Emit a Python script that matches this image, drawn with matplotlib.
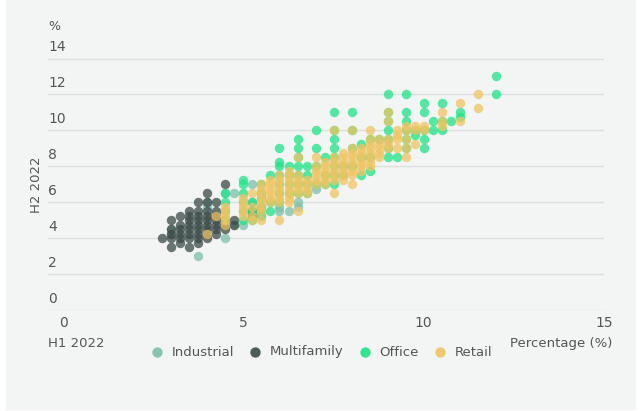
import matplotlib
matplotlib.use("Agg")
import matplotlib.pyplot as plt
from matplotlib.patches import Rectangle

# H1 2022 value -> list of H2 2022 values, per property type
INDUSTRIAL = {
    3.0: [4.5, 4.25], 3.75: [3.0], 4.0: [6.0, 5.75], 4.5: [4.0, 6.5],
    4.75: [4.75, 6.5], 5.0: [4.75], 5.25: [7.0, 6.0], 5.5: [5.75, 5.5],
    6.0: [5.5, 5.75], 6.25: [5.5], 6.5: [6.0, 5.75], 7.0: [6.75],
}
MULTIFAMILY = {
    2.75: [4.0], 3.0: [3.5, 4.0, 4.25, 4.5, 5.0],
    3.25: [3.75, 4.0, 4.25, 4.5, 4.75, 5.25],
    3.5: [3.5, 4.0, 4.25, 4.5, 4.75, 5.0, 5.25, 5.5],
    3.75: [3.75, 4.0, 4.25, 4.5, 4.75, 5.0, 5.25, 5.5, 6.0],
    4.0: [4.0, 4.25, 4.5, 4.75, 5.0, 5.25, 5.5, 6.0, 6.5],
    4.25: [4.25, 4.5, 4.75, 5.0, 5.25, 5.5, 6.0],
    4.5: [4.5, 4.75, 5.0, 7.0], 4.75: [4.75, 5.0], 5.25: [5.25, 5.5],
}
OFFICE = {
    4.5: [5.0, 5.5, 6.0, 6.5], 5.0: [5.0, 5.5, 6.0, 6.5, 7.0, 7.25],
    5.25: [5.0, 5.5, 6.0], 5.5: [5.25, 5.75, 6.25, 6.5, 7.0],
    5.75: [5.5, 6.0, 7.5], 6.0: [6.0, 6.5, 7.0, 7.5, 8.0, 8.25, 9.0],
    6.25: [6.5, 7.0, 7.5, 8.0], 6.5: [6.5, 7.0, 7.5, 8.0, 8.5, 9.0, 9.5],
    6.75: [6.5, 7.0, 7.5, 8.0], 7.0: [7.0, 8.0, 9.0, 10.0],
    7.25: [7.0, 7.5, 8.5], 7.5: [7.0, 7.5, 8.0, 8.5, 9.0, 9.5, 10.0, 11.0],
    7.75: [7.5, 8.0], 8.0: [8.0, 9.0, 10.0, 11.0], 8.25: [7.5, 8.5, 9.25],
    8.5: [7.75, 8.5, 9.5], 8.75: [9.5],
    9.0: [8.5, 9.0, 9.5, 10.0, 10.5, 11.0, 12.0], 9.25: [8.5],
    9.5: [9.0, 9.5, 10.0, 10.5, 11.0, 12.0], 9.75: [9.75, 10.0],
    10.0: [9.0, 9.5, 10.0, 11.0, 11.5], 10.25: [10.0, 10.5],
    10.5: [10.0, 10.5, 11.5], 10.75: [10.5], 11.0: [10.75, 11.0],
    12.0: [12.0, 13.0],
}
RETAIL = {
    4.0: [4.25], 4.25: [5.25], 4.5: [4.75, 5.0, 5.25, 5.5, 5.75],
    5.0: [5.25, 5.5, 5.75, 6.0, 6.25], 5.25: [5.0, 5.25, 5.75, 6.5],
    5.5: [5.0, 5.5, 5.75, 6.0, 6.25, 6.5, 6.75, 7.0],
    5.75: [6.0, 6.25, 6.5, 6.75, 7.0, 7.25],
    6.0: [5.0, 6.0, 6.25, 6.5, 6.75, 7.0, 7.25, 7.5],
    6.25: [6.0, 6.25, 6.5, 6.75, 7.0, 7.25, 7.5, 7.75],
    6.5: [5.5, 6.5, 6.75, 7.0, 7.25, 7.5, 8.5], 6.75: [6.5, 6.75, 7.0, 7.25],
    7.0: [7.0, 7.25, 7.5, 7.75, 8.0, 8.5],
    7.25: [7.0, 7.25, 7.5, 7.75, 8.0, 8.25],
    7.5: [6.5, 7.25, 7.5, 7.75, 8.0, 8.25, 8.5, 10.0],
    7.75: [7.25, 7.5, 7.75, 8.0, 8.25, 8.5, 8.75],
    8.0: [7.0, 7.5, 7.75, 8.0, 8.25, 8.5, 8.75, 9.0, 10.0],
    8.25: [7.75, 8.0, 8.25, 8.5, 8.75, 9.0],
    8.5: [8.0, 8.25, 8.5, 8.75, 9.0, 9.25, 9.5, 10.0],
    8.75: [8.5, 8.75, 9.0, 9.25, 9.5], 9.0: [9.0, 9.25, 9.5, 10.5, 11.0],
    9.25: [9.0, 9.5, 9.75, 10.0], 9.5: [8.5, 9.0, 9.5, 10.0, 10.25],
    9.75: [9.25, 10.0, 10.25], 10.0: [10.0, 10.25],
    10.5: [10.25, 10.5, 11.0], 11.0: [10.5, 11.5], 11.5: [11.25, 12.0],
}
SERIES = [("Industrial", INDUSTRIAL, "#7dbfa9"),
          ("Multifamily", MULTIFAMILY, "#3b4a48"),
          ("Office", OFFICE, "#1ee386"),
          ("Retail", RETAIL, "#f0c462")]
X_TICKS = [0, 5, 10, 15]
Y_TICKS = [0, 2, 4, 6, 8, 10, 12, 14]

fig = plt.figure(figsize=(6.4, 4.11), dpi=100, facecolor="white")
fig.patches.append(Rectangle((6 / 640, 1 / 411), 630 / 640, 1, transform=fig.transFigure,
                             facecolor="#f3f5f4", edgecolor="none", zorder=-1))
ax = fig.add_axes([48 / 640, 1 - 310 / 411, 556 / 640, 251.5 / 411])
ax.set_facecolor("none")

for name, d, c in SERIES:
    xs = [x for x, ys in d.items() for _ in ys]
    ys = [y for v in d.values() for y in v]
    ax.scatter(xs, ys, s=46, color=c, alpha=0.75, linewidths=0, label=name, zorder=3)

ax.set_xlim(-0.42, 15)
ax.set_ylim(0, 14)
for s in ax.spines.values():
    s.set_visible(False)
ax.set_yticks(Y_TICKS)
ax.set_yticklabels([])
ax.tick_params(length=0)
ax.grid(axis="y", color="#dcdfde", lw=1)
ax.set_xticks(X_TICKS)
ax.set_xticklabels([str(t) for t in X_TICKS], fontsize=10, color="#555")
ax.tick_params(axis="x", pad=4)
for t in Y_TICKS:
    ax.text(-0.42, t + 0.25, str(t), fontsize=10, color="#555", va="bottom", ha="left")

fig.text(48 / 640, 1 - 27 / 411, "%", fontsize=9, color="#555", va="center")
fig.text(36 / 640, 1 - 185 / 411, "H2 2022", fontsize=9.5, color="#555", rotation=90,
         va="center", ha="center")
fig.text(48 / 640, 1 - 343 / 411, "H1 2022", fontsize=9.5, color="#555", va="center")
fig.text(612 / 640, 1 - 343 / 411, "Percentage (%)", fontsize=9.5, color="#555",
         va="center", ha="right")
leg = fig.legend(loc="center", bbox_to_anchor=(318 / 640, 1 - 352 / 411), ncol=4,
                 frameon=False, fontsize=9.5, handletextpad=0.1, columnspacing=0.6,
                 markerscale=1.1, borderpad=0)
for t in leg.get_texts():
    t.set_color("#555")
for h in leg.legend_handles:
    h.set_alpha(0.9)

fig.savefig("out.png", dpi=100, facecolor="white")
